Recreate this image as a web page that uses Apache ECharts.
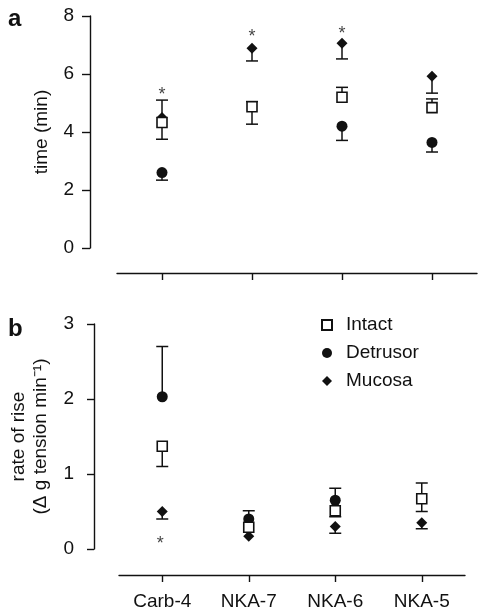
<!DOCTYPE html>
<html>
<head>
<meta charset="utf-8">
<script src="https://cdn.jsdelivr.net/npm/echarts@6/dist/echarts.min.js"></script>
<style>
html,body{margin:0;padding:0;background:#fff;}
#chart{width:480px;height:613px;}
</style>
</head>
<body>
<div id="chart"></div>
<script>
// ---- data ----
const categories = ['Carb-4', 'NKA-7', 'NKA-6', 'NKA-5'];
const seriesNames = ['Intact', 'Detrusor', 'Mucosa'];

// panel a: time (min)
const timeIntact   = [4.33, 4.87, 5.20, 4.84];
const timeDetrusor = [2.60, null, 4.20, 3.64];
const timeMucosa   = [4.50, 6.89, 7.06, 5.92];
// error-bar caps [lower, upper] per category (null = not drawn)
const timeIntactErr   = [[3.75, 5.10], [4.27, 5.05], [null, 5.54], [null, 5.14]];
const timeDetrusorErr = [[2.34, null], [null, null], [3.71, null], [3.31, null]];
const timeMucosaErr   = [[null, null], [6.45, null], [6.52, null], [5.34, null]];
const timeStars = [[0, 5.27], [1, 7.27], [2, 7.37]];
const timeTicks = {min: 0, max: 8, interval: 2};

// panel b: rate of rise
const rateIntact   = [1.37, 0.29, 0.51, 0.67];
const rateDetrusor = [2.03, 0.40, 0.65, null];
const rateMucosa   = [0.50, 0.17, 0.30, 0.35];
const rateIntactErr   = [[1.10, null], [null, null], [0.43, null], [0.50, 0.88]];
const rateDetrusorErr = [[null, 2.70], [null, 0.51], [null, 0.81], [null, null]];
const rateMucosaErr   = [[0.40, null], [null, null], [0.21, null], [0.27, null]];
const rateStars = [[0, 0.07]];
const rateTicks = {min: 0, max: 3, interval: 1};

// ---- helpers ----
const FONT = '"Liberation Sans", Arial, Helvetica, sans-serif';
const INK = '#111';

function errData(values, errs) {
  const out = [];
  values.forEach((v, i) => {
    if (v == null) return;
    errs[i].forEach(c => { if (c != null) out.push([i, v, c]); });
  });
  return out;
}
function errSeries(values, errs, gi) {
  return {
    type: 'custom', xAxisIndex: gi, yAxisIndex: gi, z: 1, silent: true,
    data: errData(values, errs),
    encode: {x: 0, y: [1, 2]},
    renderItem: function (params, api) {
      const i = api.value(0);
      const p0 = api.coord([i, api.value(1)]);
      const p1 = api.coord([i, api.value(2)]);
      return {type: 'group', children: [
        {type: 'line', shape: {x1: p0[0], y1: p0[1], x2: p1[0], y2: p1[1]}, style: {stroke: INK, lineWidth: 1.5}},
        {type: 'line', shape: {x1: p1[0] - 6, y1: p1[1], x2: p1[0] + 6, y2: p1[1]}, style: {stroke: INK, lineWidth: 1.5}}
      ]};
    }
  };
}
function pts(values) { return values.map((v, i) => [i, v]); }
function markerSeries(name, values, gi) {
  const base = {name: name, type: 'scatter', xAxisIndex: gi, yAxisIndex: gi, data: pts(values), silent: true};
  if (name === 'Intact') return Object.assign(base, {symbol: 'rect', symbolSize: 10, z: 5,
    itemStyle: {color: '#fff', borderColor: INK, borderWidth: 1.6, opacity: 1}});
  if (name === 'Detrusor') return Object.assign(base, {symbol: 'circle', symbolSize: 11, z: 4,
    itemStyle: {color: INK, opacity: 1}});
  return Object.assign(base, {symbol: 'diamond', symbolSize: [11, 11], z: 3,
    itemStyle: {color: INK, opacity: 1}});
}
function starSeries(data, gi, dx) {
  return {type: 'scatter', xAxisIndex: gi, yAxisIndex: gi, data: data, symbolSize: 1, silent: true, z: 6,
    itemStyle: {color: 'rgba(0,0,0,0)'},
    label: {show: true, position: 'inside', offset: [dx, 0], formatter: '*', color: INK, fontSize: 18, fontFamily: FONT}};
}
function xAxis(gi, showLabels, offset) {
  return {type: 'category', gridIndex: gi, data: categories, offset: offset,
    boundaryGap: true,
    axisLine: {show: true, onZero: false, lineStyle: {color: INK, width: 1.4}},
    axisTick: {show: true, interval: 0, alignWithLabel: true, length: 7, lineStyle: {color: INK, width: 1.4}},
    axisLabel: {show: showLabels, interval: 0, color: INK, fontSize: 19, fontFamily: FONT, margin: 17},
    splitLine: {show: false}};
}
function yAxis(gi, ticks, offset, name, nameGap, tickLen, margin) {
  return {type: 'value', gridIndex: gi, min: ticks.min, max: ticks.max, interval: ticks.interval,
    offset: offset, name: name, nameLocation: 'middle', nameGap: nameGap, nameRotate: 90,
    nameTextStyle: {color: INK, fontSize: 19, fontFamily: FONT, lineHeight: 22},
    axisLine: {show: true, onZero: false, lineStyle: {color: INK, width: 1.4}},
    axisTick: {show: true, length: tickLen, lineStyle: {color: INK, width: 1.4}},
    axisLabel: {color: INK, fontSize: 19, fontFamily: FONT, margin: margin},
    splitLine: {show: false}};
}

const chart = echarts.init(document.getElementById('chart'), null, {renderer: 'canvas'});
chart.setOption({
  animation: false,
  backgroundColor: '#fff',
  textStyle: {fontFamily: FONT},
  title: [
    {text: 'a', left: 3, top: 2, textStyle: {fontSize: 24, fontWeight: 'bold', color: INK, fontFamily: FONT}},
    {text: 'b', left: 3, top: 312, textStyle: {fontSize: 24, fontWeight: 'bold', color: INK, fontFamily: FONT}}
  ],
  legend: {
    data: seriesNames, orient: 'vertical', left: 321, top: 315, padding: 0,
    itemWidth: 10, itemHeight: 10, itemGap: 8, selectedMode: false,
    textStyle: {color: INK, fontSize: 19, fontFamily: FONT, lineHeight: 20, padding: [0, 0, 0, 9]}
  },
  grid: [
    {left: 117, width: 360, top: 16, height: 232},
    {left: 114, width: 351, top: 324, height: 225}
  ],
  xAxis: [xAxis(0, false, 25), xAxis(1, true, 26)],
  yAxis: [
    yAxis(0, timeTicks, 27, 'time (min)', 37, 8, 16),
    yAxis(1, rateTicks, 25, 'rate of rise\n(Δ g tension min⁻¹)', 42, 7, 20)
  ],
  series: [
    errSeries(timeIntact, timeIntactErr, 0),
    errSeries(timeDetrusor, timeDetrusorErr, 0),
    errSeries(timeMucosa, timeMucosaErr, 0),
    markerSeries('Mucosa', timeMucosa, 0),
    markerSeries('Detrusor', timeDetrusor, 0),
    markerSeries('Intact', timeIntact, 0),
    starSeries(timeStars, 0, 0),
    errSeries(rateIntact, rateIntactErr, 1),
    errSeries(rateDetrusor, rateDetrusorErr, 1),
    errSeries(rateMucosa, rateMucosaErr, 1),
    markerSeries('Mucosa', rateMucosa, 1),
    markerSeries('Detrusor', rateDetrusor, 1),
    markerSeries('Intact', rateIntact, 1),
    starSeries(rateStars, 1, -2)
  ]
});
</script>
</body>
</html>
